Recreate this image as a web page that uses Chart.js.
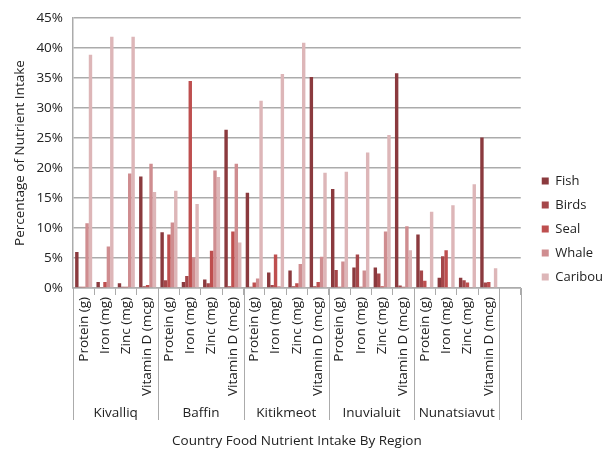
<!DOCTYPE html>
<html>
<head>
<meta charset="utf-8">
<script src="https://cdn.jsdelivr.net/npm/chart.js@4"></script>
<style>
  html, body { margin: 0; padding: 0; background: #fff; }
</style>
</head>
<body>
<canvas id="myChart" width="603" height="450"></canvas>
<script>
// regions and the four nutrients shown under each of them
const regions = ['Kivalliq', 'Baffin', 'Kitikmeot', 'Inuvialuit', 'Nunatsiavut'];
const nutrients = ['Protein (g)', 'Iron (mg)', 'Zinc (mg)', 'Vitamin D (mcg)'];
const yTicks = [0, 5, 10, 15, 20, 25, 30, 35, 40, 45];

// % of nutrient intake, region by region (4 nutrients each), last slot is the empty one
const fish    = [6.0, 1.0, 0.8, 18.6,   9.3, 1.0, 1.4, 26.4,   15.9, 2.6, 2.9, 35.2,   16.5, 3.4, 3.4, 35.8,   8.9, 1.7, 1.7, 25.1,  null];
const birds   = [0.2, 0.1, 0.2, 0.3,    1.3, 2.0, 0.8, 0.3,    0.2, 0.5, 0.3, 0.3,     3.0, 5.6, 2.4, 0.4,     2.9, 5.3, 1.3, 0.9,   null];
const seal    = [0.2, 1.0, 0.2, 0.5,    8.9, 34.5, 6.2, 9.4,   0.9, 5.6, 0.8, 1.0,     0.2, 0.2, 0.3, 0.2,     1.2, 6.3, 0.9, 1.0,   null];
const whale   = [10.8, 6.9, 19.1, 20.7, 10.9, 5.1, 19.6, 20.7, 1.6, 0.3, 4.0, 5.2,     4.4, 2.9, 9.4, 10.3,    0.1, 0.1, 0.1, 0.1,   null];
const caribou = [38.9, 41.9, 41.9, 16.0, 16.2, 14.0, 18.5, 7.6, 31.2, 35.7, 40.9, 19.2, 19.4, 22.6, 25.5, 6.3,  12.7, 13.8, 17.3, 3.3,  null];

const labels = [];
regions.forEach(() => nutrients.forEach(n => labels.push(n)));
labels.push('');

const FONT = '"Open Sans", "DejaVu Sans", sans-serif';
const TEXT = '#222222';
const GRID = '#ABABAB';

// region names + separators below the nutrient labels
const regionRow = {
  id: 'regionRow',
  afterDraw(chart) {
    const x = chart.scales.x;
    const ctx = chart.ctx;
    const step = (x.right - x.left) / labels.length;
    ctx.save();
    ctx.strokeStyle = GRID;
    ctx.lineWidth = 1;
    const edges = [];
    for (let r = 0; r <= regions.length; r++) edges.push(x.left + r * nutrients.length * step);
    edges.push(x.right);
    edges.forEach(px => {
      ctx.beginPath();
      ctx.moveTo(Math.round(px) + 0.5, x.top);
      ctx.lineTo(Math.round(px) + 0.5, 420);
      ctx.stroke();
    });
    ctx.fillStyle = TEXT;
    ctx.font = '13.5px ' + FONT;
    ctx.textAlign = 'center';
    ctx.textBaseline = 'middle';
    regions.forEach((name, r) => {
      const a = x.getPixelForValue(r * 4);
      const b = x.getPixelForValue(r * 4 + 3);
      ctx.fillText(name, (a + b) / 2, 413);
    });
    ctx.restore();
  }
};

// nudge the legend a bit to the right/up, like the original
const legendShift = {
  id: 'legendShift',
  afterLayout(chart) {
    const lg = chart.legend;
    lg.left += 10; lg.right += 10;
    lg.top -= 4; lg.bottom -= 4;
  }
};

const config = {
  type: 'bar',
  data: {
    labels: labels,
    datasets: [
      { label: 'Fish',    data: fish,    backgroundColor: '#8B3A3E' },
      { label: 'Birds',   data: birds,   backgroundColor: '#A5474A' },
      { label: 'Seal',    data: seal,    backgroundColor: '#BE4F4F' },
      { label: 'Whale',   data: whale,   backgroundColor: '#CF8D90' },
      { label: 'Caribou', data: caribou, backgroundColor: '#DDB6B8' }
    ]
  },
  options: {
    responsive: false,
    animation: false,
    devicePixelRatio: 1,
    layout: { padding: { top: 16, right: 0, bottom: 0, left: 0 } },
    datasets: { bar: { categoryPercentage: 0.8, barPercentage: 1.0, borderWidth: 0 } },
    plugins: {
      tooltip: { enabled: false },
      legend: {
        position: 'right',
        labels: {
          boxWidth: 7, boxHeight: 7, padding: 11,
          color: TEXT,
          font: { family: FONT, size: 13 }
        }
      }
    },
    scales: {
      x: {
        grid: { display: true, offset: true, drawOnChartArea: false, drawTicks: true, tickLength: 7, color: GRID },
        border: { color: GRID, width: 1.5 },
        ticks: {
          autoSkip: false, minRotation: 90, maxRotation: 90, padding: 2,
          color: TEXT, font: { family: FONT, size: 13.5 }
        },
        title: {
          display: true, text: 'Country Food Nutrient Intake By Region',
          color: TEXT, font: { family: FONT, size: 13.5 }, padding: { top: 0, bottom: 1 }
        },
        afterFit(scale) { scale.height = 162; }
      },
      y: {
        min: 0, max: 45,
        afterBuildTicks(scale) { scale.ticks = yTicks.map(v => ({ value: v })); },
        grid: { color: GRID, lineWidth: 1.5, drawTicks: false },
        border: { color: GRID, width: 1.5 },
        ticks: {
          padding: 10, color: TEXT, font: { family: FONT, size: 13.5 },
          callback: v => v + '%'
        },
        title: {
          display: true, text: 'Percentage of Nutrient Intake',
          color: TEXT, font: { family: FONT, size: 13.5 }, padding: { top: 12, bottom: 0 }
        },
        afterFit(scale) { scale.width = 73; }
      }
    }
  },
  plugins: [regionRow, legendShift]
};

new Chart(document.getElementById('myChart').getContext('2d'), config);
</script>
</body>
</html>
